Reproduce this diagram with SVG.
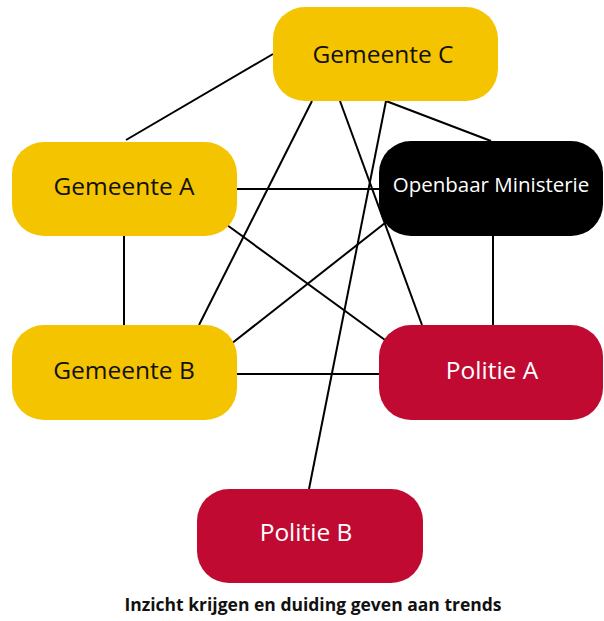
<svg xmlns="http://www.w3.org/2000/svg" width="604" height="621" viewBox="0 0 604 621">
  <style>
    .yellow { fill: #F5C400; }
    .black { fill: #000000; }
    .red { fill: #C00A32; }
    .label { font-family: "Open Sans", "Noto Sans", sans-serif; font-size: 24.5px; text-anchor: middle; }
    .dark { fill: #111111; }
    .light { fill: #FFFFFF; }
    .small { font-size: 20.5px; }
    .edge { stroke: #000000; stroke-width: 2; fill: none; }
    .caption { font-family: "Open Sans", "Noto Sans", sans-serif; font-size: 17.5px; font-weight: bold; text-anchor: middle; fill: #111111; }
  </style>

  <!-- connectors -->
  <g id="connectors" class="edge">
    <line x1="273" y1="54" x2="126" y2="140"/>
    <line x1="312" y1="101" x2="199" y2="325"/>
    <line x1="340" y1="101" x2="422" y2="325"/>
    <line x1="386" y1="101" x2="309" y2="489"/>
    <line x1="386" y1="101" x2="491" y2="141"/>
    <line x1="237" y1="189" x2="379" y2="189"/>
    <line x1="227" y1="225" x2="385" y2="340"/>
    <line x1="124" y1="236" x2="124" y2="325"/>
    <line x1="385" y1="223" x2="231" y2="344"/>
    <line x1="493" y1="236" x2="493" y2="325"/>
    <line x1="237" y1="374" x2="379" y2="374"/>
  </g>

  <g id="gemeente-c">
    <rect class="yellow" x="273" y="7" width="225" height="94" rx="32"/>
    <text class="label dark" x="383" y="63">Gemeente C</text>
  </g>

  <g id="gemeente-a">
    <rect class="yellow" x="12" y="142" width="225" height="94" rx="32"/>
    <text class="label dark" x="124" y="195">Gemeente A</text>
  </g>

  <g id="openbaar-ministerie">
    <rect class="black" x="379" y="141" width="224" height="95" rx="32"/>
    <text class="label light small" x="491" y="192">Openbaar Ministerie</text>
  </g>

  <g id="gemeente-b">
    <rect class="yellow" x="12" y="325" width="225" height="95" rx="32"/>
    <text class="label dark" x="124" y="379">Gemeente B</text>
  </g>

  <g id="politie-a">
    <rect class="red" x="379" y="325" width="224" height="95" rx="32"/>
    <text class="label light" x="492" y="379">Politie A</text>
  </g>

  <g id="politie-b">
    <rect class="red" x="197" y="489" width="226" height="94" rx="32"/>
    <text class="label light" x="306" y="541">Politie B</text>
  </g>

  <text class="caption" x="313" y="611">Inzicht krijgen en duiding geven aan trends</text>
</svg>
